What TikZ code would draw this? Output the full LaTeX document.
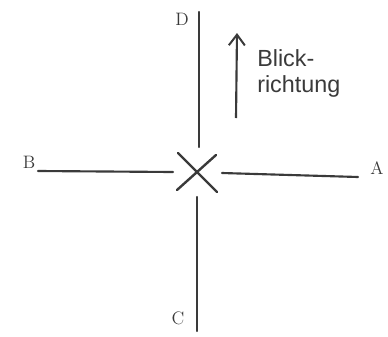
\documentclass[tikz,border=0pt]{standalone}
\usepackage{fontspec}
\newfontfamily\blickfont{Liberation Sans}
\usetikzlibrary{arrows.meta,positioning}
\definecolor{ink}{HTML}{3A3A3A}

\begin{document}
\begin{tikzpicture}[
  x=0.75pt,y=-0.75pt,
  >={Straight Barb[length=8pt,width=12pt,line width=1.5pt]},
  axis/.style={draw=ink,line width=1.6pt,line cap=round},
  kreuz/.style={draw=ink,line width=1.8pt,line cap=round},
  pfeil/.style={draw=ink,line width=1.6pt,->},
  punkt/.style={text=ink,font=\fontsize{13.5}{15}\selectfont,inner sep=0pt},
  blick/.style={text=ink,font=\blickfont\fontsize{17.5}{19.5}\selectfont,align=left,inner sep=0pt}
]
  \useasboundingbox (0,0) rectangle (388,336);

  % Achsen
  \coordinate (dtop) at (199,12);
  \coordinate (dbot) at (199,147);
  \coordinate (ctop) at (197,197);
  \coordinate (cbot) at (197,331);
  \coordinate (bleft) at (38,171);
  \coordinate (bright) at (173,172);
  \coordinate (aleft) at (222,173);
  \coordinate (aright) at (358,177);

  % Kreuz in der Mitte
  \coordinate (k1) at (178,153);
  \coordinate (k2) at (217,192);
  \coordinate (k3) at (216,155);
  \coordinate (k4) at (177,190);

  \node[punkt] (D) at (182,19) {D};
  \node[punkt] (C) at (178,318) {C};
  \node[punkt] (B) at (29,162) {B};
  \node[punkt] (A) at (377,168) {A};

  \coordinate (pfeilfuss) at (236,118);
  \coordinate (pfeilspitze) at (237,33);
  \node[blick,anchor=base west] (blicktext) at (257,92) {Blick-\\richtung};

  \draw[axis] (dtop) -- (dbot);
  \draw[axis] (ctop) -- (cbot);
  \draw[axis] (bleft) -- (bright);
  \draw[axis] (aleft) -- (aright);
  \draw[kreuz] (k1) -- (k2);
  \draw[kreuz] (k3) -- (k4);
  \draw[pfeil] (pfeilfuss) -- (pfeilspitze);
\end{tikzpicture}
\end{document}
